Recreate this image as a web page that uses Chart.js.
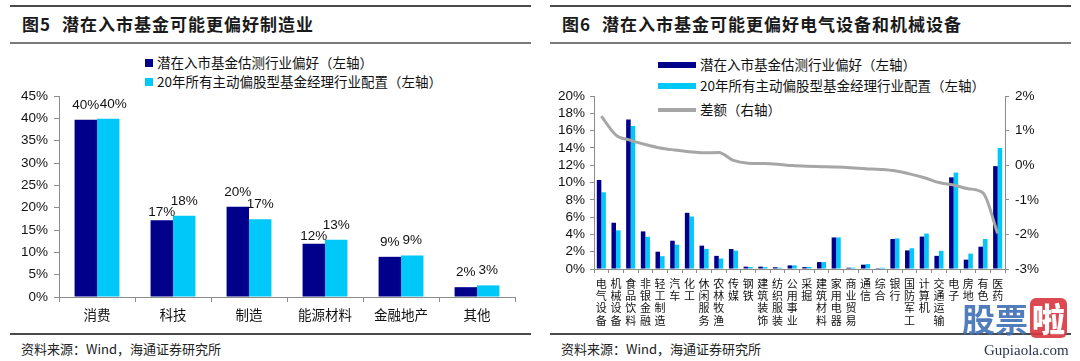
<!DOCTYPE html>
<html>
<head>
<meta charset="utf-8">
<script src="https://cdn.jsdelivr.net/npm/chart.js@4.4.1/dist/chart.umd.min.js"></script>
<style>
  html, body { margin: 0; padding: 0; background: #fff; }
  body { width: 1080px; height: 361px; position: relative; overflow: hidden;
         font-family: "Noto Sans CJK SC", "Liberation Sans", sans-serif; color: #111; }
  .rule { position: absolute; height: 0; border-top: 2px solid #4a4a4a; }
  .rule.mid { border-top: 2px solid #7a7a7a; }
  .title { position: absolute; top: 12px; font-size: 17px; font-weight: bold; letter-spacing: 1px;
           white-space: nowrap; line-height: 24px; color: #1a1a1a; }
  .title span { margin-right: 11px; }
  .src { position: absolute; top: 340px; font-size: 13px; white-space: nowrap; line-height: 18px; color: #222; }
  .legend { position: absolute; font-size: 13.5px; white-space: nowrap; line-height: 18px; }
  .legend i { display: inline-block; vertical-align: middle; margin-right: 4px; position: relative; top: -1px; }
  canvas { position: absolute; }
  .wm { position: absolute; left: 962px; top: 298px; font-size: 33px; font-weight: bold; line-height: 40px;
        white-space: nowrap; color: #3f6fb5; opacity: 0.9; }
  .wm b { display: inline-block; background: #d9363e; color: #fff; border-radius: 6px; padding: 0 2px; margin-left: 2px; }
  .wm2 { position: absolute; left: 984px; top: 341px; font-family: "Liberation Serif", serif; font-size: 15px;
         line-height: 18px; color: #2a3550; }
</style>
</head>
<body>

<div class="rule" style="left:10px; width:521px; top:5px;"></div>
<div class="rule mid" style="left:10px; width:521px; top:42px;"></div>
<div class="title" style="left:22px;"><span>图5</span>潜在入市基金可能更偏好制造业</div>

<div class="rule" style="left:550px; width:521px; top:5px;"></div>
<div class="rule mid" style="left:550px; width:521px; top:42px;"></div>
<div class="title" style="left:562px;"><span>图6</span>潜在入市基金可能更偏好电气设备和机械设备</div>

<div class="legend" style="left:145px; top:53px;"><i style="width:8px;height:8px;background:#00008B"></i>潜在入市基金估测行业偏好（左轴）</div>
<div class="legend" style="left:145px; top:72px;"><i style="width:8px;height:8px;background:#00C8F8"></i>20年所有主动偏股型基金经理行业配置（左轴）</div>

<div class="legend" style="left:658px; top:55px;"><i style="width:38px;height:6px;background:#00008B"></i>潜在入市基金估测行业偏好（左轴）</div>
<div class="legend" style="left:658px; top:76px;"><i style="width:38px;height:6px;background:#00C8F8"></i>20年所有主动偏股型基金经理行业配置（左轴）</div>
<div class="legend" style="left:658px; top:100px;"><i style="width:38px;height:4px;background:#a6a6a6"></i>差额（右轴）</div>

<canvas id="leftChart" width="540" height="248" style="left:0; top:82px;"></canvas>
<canvas id="rightChart" width="540" height="248" style="left:540px; top:82px;"></canvas>

<div class="rule" style="left:10px; width:521px; top:333px;"></div>
<div class="rule" style="left:550px; width:521px; top:333px;"></div>
<div class="src" style="left:21px;">资料来源：Wind，海通证券研究所</div>
<div class="src" style="left:561px;">资料来源：Wind，海通证券研究所</div>

<div class="wm">股票<b>啦</b></div>
<div class="wm2">Gupiaola.com</div>

<script>
// 图5 数据
const leftCats = ['消费', '科技', '制造', '能源材料', '金融地产', '其他'];
const leftPredicted = [39.7, 17.2, 20.2, 11.9, 9.0, 2.2];
const leftActual = [39.9, 18.2, 17.4, 12.8, 9.3, 2.6];
const leftTicks = [0, 5, 10, 15, 20, 25, 30, 35, 40, 45];

// 图6 数据
const rightCats = ['电气设备', '机械设备', '食品饮料', '非银金融', '轻工制造', '汽车', '化工', '休闲服务',
  '农林牧渔', '传媒', '钢铁', '建筑装饰', '纺织服装', '公用事业', '采掘', '建筑材料', '家用电器',
  '商业贸易', '通信', '综合', '银行', '国防军工', '计算机', '交通运输', '电子', '房地', '有色', '医药'];
const rightPredicted = [10.3, 5.35, 17.3, 4.35, 2.0, 3.27, 6.5, 2.7, 1.52, 2.31, 0.27, 0.27, 0.2, 0.42,
  0.22, 0.8, 3.65, 0.15, 0.5, 0.1, 3.47, 2.15, 3.75, 1.52, 10.6, 1.08, 2.58, 11.9];
const rightActual = [8.87, 4.47, 16.55, 3.72, 1.48, 2.82, 6.07, 2.33, 1.21, 2.12, 0.23, 0.22, 0.15, 0.42,
  0.23, 0.8, 3.65, 0.15, 0.57, 0.15, 3.54, 2.4, 4.1, 2.1, 11.15, 1.78, 3.47, 14.0];
const rightGap = [1.42, 0.87, 0.72, 0.60, 0.50, 0.44, 0.39, 0.36, 0.37, 0.14, 0.06, 0.05, 0.03, -0.01,
  -0.03, -0.04, -0.05, -0.07, -0.10, -0.12, -0.16, -0.25, -0.36, -0.50, -0.57, -0.68, -0.80, -1.97];
const rightTicksL = [0, 2, 4, 6, 8, 10, 12, 14, 16, 18, 20];
const rightTicksR = [-3, -2, -1, 0, 1, 2];

const DARK = '#00008B';
const LIGHT = '#00C8F8';
const AXIS = '#8c8c8c';
const numFont = { family: '"Liberation Sans", Arial, sans-serif', size: 13.5 };
const cjkFont = { family: '"Noto Sans CJK SC", sans-serif', size: 13.5 };

const fixedTicks = list => scale => { scale.ticks = list.map(v => ({ value: v })); };

// 柱顶数值标签（个别标签位置微调）
const labelNudge = { '1-0': [5, 0], '0-1': [0, 7], '0-3': [0, 7] };
const barLabels = {
  id: 'barLabels',
  afterDatasetsDraw(chart) {
    const ctx = chart.ctx;
    ctx.save();
    ctx.font = '13.5px "Liberation Sans", Arial, sans-serif';
    ctx.fillStyle = '#111';
    ctx.textAlign = 'center';
    ctx.textBaseline = 'bottom';
    chart.data.datasets.forEach((ds, i) => {
      chart.getDatasetMeta(i).data.forEach((bar, j) => {
        const n = labelNudge[i + '-' + j] || [0, 0];
        ctx.fillText(Math.round(ds.data[j]) + '%', bar.x + n[0], bar.y - 8 + n[1]);
      });
    });
    ctx.restore();
  }
};

new Chart(document.getElementById('leftChart'), {
  type: 'bar',
  data: {
    labels: leftCats,
    datasets: [
      { label: '潜在入市基金估测行业偏好（左轴）', data: leftPredicted, backgroundColor: DARK },
      { label: '20年所有主动偏股型基金经理行业配置（左轴）', data: leftActual, backgroundColor: LIGHT }
    ]
  },
  options: {
    responsive: false,
    animation: false,
    layout: { padding: { top: 12, right: 25, left: 0, bottom: 0 } },
    datasets: { bar: { categoryPercentage: 0.59, barPercentage: 1 } },
    plugins: { legend: { display: false }, tooltip: { enabled: false } },
    scales: {
      x: {
        ticks: { font: cjkFont, color: '#111', padding: 5, maxRotation: 0 },
        grid: { drawOnChartArea: false, color: AXIS, tickLength: 5 },
        border: { color: AXIS },
        afterFit: s => { s.height = 33; }
      },
      y: {
        min: 0, max: 45,
        afterBuildTicks: fixedTicks(leftTicks),
        ticks: { font: numFont, color: '#111', padding: 6, autoSkip: false, callback: v => v + '%' },
        grid: { drawOnChartArea: false, color: AXIS, tickLength: 5 },
        border: { color: AXIS },
        afterFit: s => { s.width = 59; }
      }
    }
  },
  plugins: [barLabels]
});

new Chart(document.getElementById('rightChart'), {
  type: 'bar',
  data: {
    labels: rightCats.map(c => c.split('')),
    datasets: [
      { type: 'line', label: '差额（右轴）', data: rightGap, yAxisID: 'y1', order: 0,
        borderColor: '#a6a6a6', borderWidth: 3, pointRadius: 0, cubicInterpolationMode: 'monotone', fill: false },
      { label: '潜在入市基金估测行业偏好（左轴）', data: rightPredicted, backgroundColor: DARK, yAxisID: 'y', order: 1 },
      { label: '20年所有主动偏股型基金经理行业配置（左轴）', data: rightActual, backgroundColor: LIGHT, yAxisID: 'y', order: 2 }
    ]
  },
  options: {
    responsive: false,
    animation: false,
    layout: { padding: { top: 12, right: 0, left: 0, bottom: 0 } },
    datasets: { bar: { categoryPercentage: 0.62, barPercentage: 1 } },
    plugins: { legend: { display: false }, tooltip: { enabled: false } },
    scales: {
      x: {
        ticks: { font: { family: '"Noto Sans CJK SC", sans-serif', size: 11, lineHeight: 1.1 },
                 color: '#111', padding: 5, maxRotation: 0, minRotation: 0, autoSkip: false },
        grid: { drawOnChartArea: false, color: AXIS, tickLength: 4 },
        border: { color: AXIS },
        afterFit: s => { s.height = 61; }
      },
      y: {
        position: 'left',
        min: 0, max: 20,
        afterBuildTicks: fixedTicks(rightTicksL),
        ticks: { font: numFont, color: '#111', padding: 5, autoSkip: false, callback: v => v + '%' },
        grid: { drawOnChartArea: false, color: AXIS, tickLength: 4 },
        border: { color: AXIS },
        afterFit: s => { s.width = 54; }
      },
      y1: {
        position: 'right',
        min: -3, max: 2,
        afterBuildTicks: fixedTicks(rightTicksR),
        ticks: { font: numFont, color: '#111', padding: 6, autoSkip: false, callback: v => v + '%' },
        grid: { drawOnChartArea: false, color: AXIS, tickLength: 4 },
        border: { color: AXIS },
        afterFit: s => { s.width = 75; }
      }
    }
  }
});
</script>
</body>
</html>
